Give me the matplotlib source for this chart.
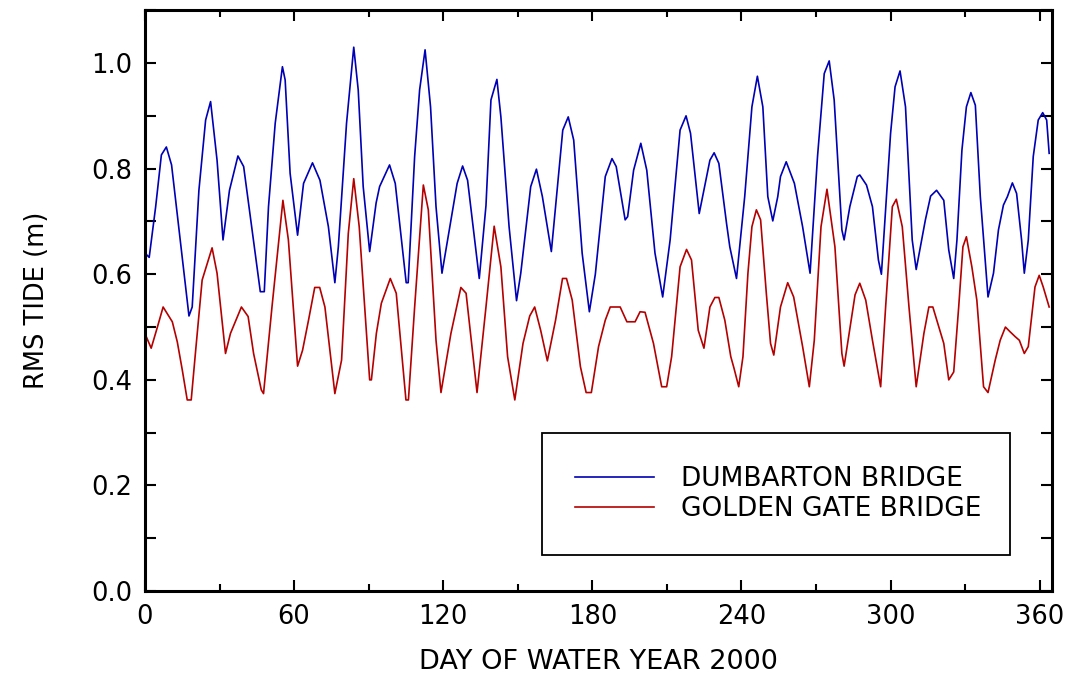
import matplotlib
matplotlib.use('Agg')
import matplotlib.pyplot as plt
from matplotlib.ticker import MultipleLocator

plt.rcParams['font.family'] = ['DejaVu Sans']

# Dumbarton Bridge RMS tide (day, m)
dumbarton_day = [0, 1.7, 4.3, 6.6, 8.6, 10.7, 13.7, 17.7, 19, 21.7, 24.4, 26.4, 29, 31.4, 34, 37.4,
                 39.7, 42.4, 46.4, 48, 49.7, 52.4, 55.3, 56.4, 58.4, 61.4, 63.8, 67.4, 70.4, 73.8,
                 76.4, 77.8, 81.1, 84, 85.8, 87.8, 90.4, 93, 94.4, 98.4, 100.7, 105.1, 105.9, 108.5,
                 110.5, 112.7, 114.9, 117.1, 119.5, 123.1, 125.6, 127.8, 129.8, 134.5, 137.2, 139.2,
                 141.6, 143.2, 146.5, 149.5, 151.2, 155.2, 157.5, 159.9, 163.5, 168.1, 170.3, 172.5,
                 175.9, 178.8, 181.2, 185.2, 187.9, 189.6, 193.2, 194.2, 196.6, 199.5, 201.9, 205.2,
                 208.3, 211.3, 215.3, 217.7, 219.5, 223, 227.3, 229, 230.9, 234, 235.3, 238, 241.3,
                 244.2, 246.4, 248.6, 250.6, 252.6, 254.6, 255.7, 258, 261.3, 264.6, 267.6, 270.6,
                 273.3, 275.3, 277.3, 280.4, 281.3, 283.6, 286.6, 287.6, 290.3, 292.7, 295.1, 296.3,
                 300, 301.8, 303.8, 306, 308.7, 310.3, 314, 316.1, 318.5, 321.4, 323.4, 325.4, 326.7,
                 328.7, 330.5, 332.3, 334.1, 336.1, 339.2, 341.4, 343.4, 345.4, 347, 349, 350.7, 352.7,
                 353.8, 355.4, 357.4, 359.4, 361.2, 362.8, 363.8]
dumbarton_rms = [0.64, 0.632, 0.728, 0.826, 0.841, 0.807, 0.684, 0.521, 0.538, 0.759, 0.892, 0.927,
                 0.816, 0.665, 0.759, 0.824, 0.804, 0.709, 0.567, 0.567, 0.728, 0.886, 0.993, 0.968,
                 0.791, 0.674, 0.772, 0.811, 0.778, 0.69, 0.584, 0.652, 0.886, 1.030, 0.949, 0.766,
                 0.643, 0.735, 0.766, 0.807, 0.772, 0.584, 0.584, 0.823, 0.949, 1.025, 0.917, 0.728,
                 0.602, 0.703, 0.772, 0.805, 0.778, 0.592, 0.73, 0.93, 0.969, 0.898, 0.69, 0.55,
                 0.602, 0.766, 0.799, 0.747, 0.643, 0.873, 0.898, 0.854, 0.64, 0.529, 0.60, 0.785,
                 0.819, 0.804, 0.703, 0.709, 0.797, 0.848, 0.797, 0.64, 0.557, 0.665, 0.873, 0.90,
                 0.867, 0.715, 0.816, 0.83, 0.81, 0.696, 0.652, 0.592, 0.747, 0.917, 0.975, 0.917,
                 0.747, 0.701, 0.747, 0.785, 0.813, 0.772, 0.69, 0.602, 0.823, 0.98, 1.004, 0.93,
                 0.684, 0.665, 0.728, 0.785, 0.788, 0.769, 0.728, 0.627, 0.60, 0.867, 0.955, 0.985,
                 0.917, 0.665, 0.609, 0.703, 0.748, 0.759, 0.74, 0.646, 0.592, 0.665, 0.835, 0.917,
                 0.944, 0.92, 0.747, 0.557, 0.602, 0.684, 0.731, 0.747, 0.773, 0.753, 0.665, 0.602,
                 0.665, 0.823, 0.892, 0.906, 0.892, 0.829]

# Golden Gate Bridge RMS tide (day, m)
golden_day = [0.5, 2.5, 5, 7.3, 11, 13, 15, 17, 18.6, 20.4, 23, 27, 29, 32.4, 34.4, 38.8, 41.5, 43.7,
              46.8, 47.7, 51.1, 55.5, 57.7, 61.4, 63.4, 65.8, 68.3, 70.3, 72.4, 76.4, 79.1, 81.8, 84,
              86.2, 90.4, 91.1, 93.1, 95.1, 98.7, 101.1, 105, 106, 108.5, 112, 114, 117.1, 119.1,
              123.1, 127.1, 129.2, 133.6, 137.2, 140.5, 143.2, 145.9, 148.8, 152.1, 154.8, 156.8,
              159.2, 161.9, 165.2, 168, 169.6, 171.9, 175.2, 177.5, 179.6, 182.5, 185.2, 187.2,
              191.2, 193.9, 197.2, 199.2, 201.2, 204.6, 206.6, 207.9, 209.9, 211.9, 215.3, 217.9,
              219.9, 222.6, 224.9, 227.3, 229.3, 230.9, 233.3, 235.7, 237, 238.9, 240.6, 242.6,
              244.2, 246, 247.7, 250, 251.7, 253, 255.7, 258.6, 261, 264.6, 267.3, 269.3, 272,
              274.4, 277.6, 280.4, 281.3, 283.3, 285.7, 287.6, 290, 292.7, 296, 298, 300.7, 302.3,
              304.7, 307.4, 310.3, 313.4, 315.4, 317, 319.4, 321.4, 323.4, 325.4, 327.4, 329.1,
              330.5, 332.7, 334.7, 337.4, 339.2, 342.1, 344.1, 346.2, 348.1, 350.1, 351.8, 353.8,
              355.4, 358.1, 359.8, 361.4, 363.8]
golden_rms = [0.482, 0.46, 0.50, 0.538, 0.51, 0.472, 0.419, 0.362, 0.362, 0.456, 0.589, 0.65, 0.602,
              0.45, 0.488, 0.538, 0.52, 0.45, 0.381, 0.374, 0.538, 0.74, 0.665, 0.426, 0.456, 0.513,
              0.575, 0.575, 0.538, 0.374, 0.4375, 0.677, 0.781, 0.69, 0.40, 0.40, 0.488, 0.545, 0.592,
              0.564, 0.362, 0.362, 0.538, 0.769, 0.722, 0.475, 0.376, 0.488, 0.575, 0.564, 0.376,
              0.538, 0.691, 0.614, 0.444, 0.362, 0.469, 0.521, 0.538, 0.494, 0.436, 0.513, 0.592,
              0.592, 0.551, 0.425, 0.376, 0.376, 0.463, 0.513, 0.538, 0.538, 0.51, 0.51, 0.529,
              0.528, 0.469, 0.419, 0.387, 0.387, 0.444, 0.614, 0.647, 0.627, 0.494, 0.46, 0.538,
              0.556, 0.556, 0.513, 0.444, 0.422, 0.387, 0.444, 0.602, 0.69, 0.722, 0.703, 0.564,
              0.469, 0.447, 0.538, 0.584, 0.557, 0.463, 0.387, 0.475, 0.69, 0.761, 0.652, 0.45,
              0.426, 0.488, 0.561, 0.583, 0.551, 0.475, 0.387, 0.538, 0.728, 0.742, 0.69, 0.538,
              0.387, 0.488, 0.538, 0.538, 0.50, 0.469, 0.40, 0.415, 0.538, 0.652, 0.671, 0.614,
              0.551, 0.387, 0.376, 0.4375, 0.475, 0.50, 0.491, 0.482, 0.475, 0.45, 0.463, 0.576,
              0.598, 0.576, 0.538]

fig = plt.figure(figsize=(10.66, 6.81), dpi=100)
ax = fig.add_axes([0.136, 0.132, 0.851, 0.853])

ax.plot(dumbarton_day, dumbarton_rms, color='#0000b4', lw=1.2, label='DUMBARTON BRIDGE')
ax.plot(golden_day, golden_rms, color='#b40000', lw=1.2, label='GOLDEN GATE BRIDGE')

ax.set_xlim(0, 365)
ax.set_ylim(0, 1.1)
ax.xaxis.set_major_locator(MultipleLocator(60))
ax.xaxis.set_minor_locator(MultipleLocator(30))
ax.yaxis.set_major_locator(MultipleLocator(0.2))
ax.yaxis.set_minor_locator(MultipleLocator(0.1))
ax.yaxis.set_major_formatter(plt.FormatStrFormatter('%.1f'))

ax.tick_params(which='both', direction='in', top=True, right=True, width=1.5, labelsize=18.5, pad=9)
ax.tick_params(which='major', length=8)
ax.tick_params(axis='y', which='minor', length=8)
ax.tick_params(axis='x', which='minor', length=5)
for s in ax.spines.values():
    s.set_linewidth(2.2)

ax.set_xlabel('DAY OF WATER YEAR 2000', fontsize=19.5, labelpad=14)
ax.set_ylabel('RMS TIDE (m)', fontsize=18.5, labelpad=30)

leg = ax.legend(loc='lower left', bbox_to_anchor=(0.438, 0.062, 0.516, 0.203), mode='expand',
                fontsize=19, fancybox=False, edgecolor='black', framealpha=1,
                handlelength=3.0, handletextpad=1.0, borderpad=1.25, labelspacing=0.15,
                borderaxespad=0)
leg.get_frame().set_linewidth(1.3)

fig.savefig('out.png', dpi=100)
